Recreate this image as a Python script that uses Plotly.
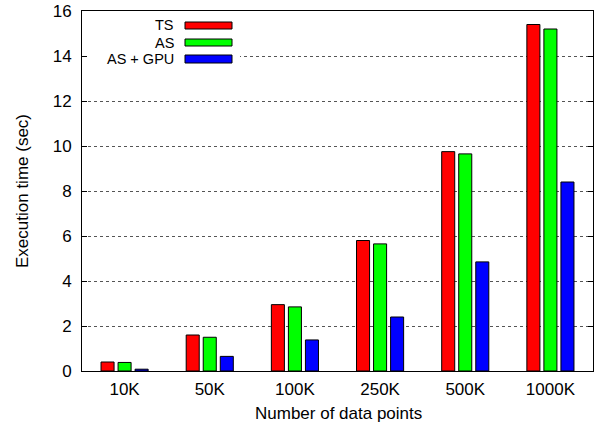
import plotly.graph_objects as go

categories = ["10K", "50K", "100K", "250K", "500K", "1000K"]
ts = [0.40, 1.60, 2.95, 5.80, 9.75, 15.40]
as_ = [0.38, 1.50, 2.85, 5.65, 9.65, 15.20]
as_gpu = [0.08, 0.65, 1.38, 2.40, 4.85, 8.40]
series = [("TS", ts, "#ff0000"), ("AS", as_, "#00ff00"), ("AS + GPU", as_gpu, "#0000ff")]

FONT = "Liberation Sans, Arial, Helvetica, sans-serif"
FS = 17
LEG_FS = 14.5

# plot area in pixels (for the hand-drawn gnuplot-style legend)
L, R, T, B = 82, 593, 11, 371
W, H = 597, 425


def px(x):
    return (x - L) / (R - L)


def py(y):
    return (B - y) / (B - T)


fig = go.Figure()
for name, vals, col in series:
    fig.add_trace(go.Bar(
        x=categories, y=vals, name=name,
        marker=dict(color=col, line=dict(color="black", width=1)),
    ))

fig.update_layout(
    width=W, height=H,
    margin=dict(l=L, r=W - R, t=T, b=H - B, autoexpand=False),
    paper_bgcolor="white", plot_bgcolor="white",
    font=dict(family=FONT, size=FS, color="black"),
    barmode="group", bargap=0.4, bargroupgap=0.235,
    showlegend=False,
)
fig.update_xaxes(
    showline=True, mirror=True, linecolor="black", linewidth=1,
    showgrid=False, ticks="", tickfont=dict(size=FS), automargin=False,
    ticklabelstandoff=3,
)
fig.update_yaxes(
    range=[0, 16], dtick=2, showline=True, mirror="ticks", linecolor="black", linewidth=1,
    ticks="inside", ticklen=5, tickcolor="black",
    showgrid=True, gridcolor="#555", griddash="dot", gridwidth=0.8, zeroline=False,
    tickfont=dict(size=FS), automargin=False, ticklabelstandoff=6,
)

# axis titles
fig.add_annotation(text="Execution time (sec)", xref="paper", yref="paper",
                   x=px(22), y=0.5, textangle=-90, showarrow=False,
                   xanchor="center", yanchor="middle", font=dict(size=FS))
fig.add_annotation(text="Number of data points", xref="paper", yref="paper",
                   x=px(338), y=py(413), showarrow=False,
                   xanchor="center", yanchor="middle", font=dict(size=FS))

# legend: white box, right-aligned labels, swatches to the right (gnuplot style)
fig.add_shape(type="rect", xref="paper", yref="paper",
              x0=px(88), x1=px(240), y0=py(66), y1=py(14),
              fillcolor="white", line=dict(width=0), layer="above")
rows = [(22, 29), (39, 46), (55, 63)]
for (name, vals, col), (y0, y1) in zip(series, rows):
    fig.add_shape(type="rect", xref="paper", yref="paper",
                  x0=px(185), x1=px(232), y0=py(y1), y1=py(y0),
                  fillcolor=col, line=dict(color="black", width=1), layer="above")
    fig.add_annotation(text=name, xref="paper", yref="paper",
                       x=px(175), y=py((y0 + y1) / 2), xanchor="right", yanchor="middle",
                       showarrow=False, borderpad=0, font=dict(size=LEG_FS))

# page body has an 8px default margin; drop it so the figure sits at 0,0
fig.write_html("out.html", config={"displayModeBar": False},
               post_script="document.body.style.margin='0';")
